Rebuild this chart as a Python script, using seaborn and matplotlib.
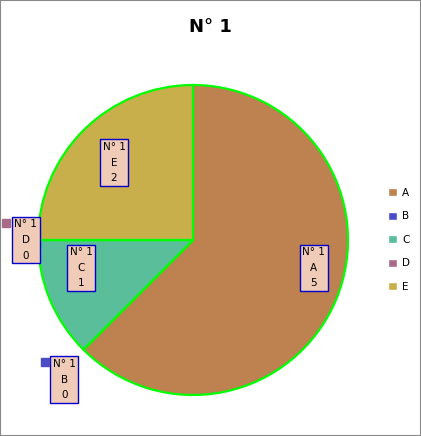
import matplotlib
matplotlib.use("Agg")
import matplotlib.pyplot as plt
from matplotlib.patches import Rectangle
import seaborn as sns

categories = ["A", "B", "C", "D", "E"]
values = [5, 0, 1, 0, 2]
series_name = "N° 1"
colors = ["#BE8150", "#4B4BC8", "#5ABE9B", "#A86A88", "#C8AF4B"]

# label anchor positions (data units, radius 1 pie) - layout only
label_pos = {"A": (0.78, -0.18), "B": (-0.83, -0.90), "C": (-0.72, -0.18),
             "D": (-1.08, 0.0), "E": (-0.51, 0.50)}

sns.set_style("white")
plt.rcParams["font.family"] = ["DejaVu Sans"]
plt.rcParams["text.color"] = "black"

fig = plt.figure(figsize=(4.21, 4.36), dpi=100)
ax = fig.add_axes([38 / 421, 41 / 436, 310 / 421, 310 / 436])

wedges, _ = ax.pie(values, colors=colors, startangle=90, counterclock=False,
                   radius=1, wedgeprops=dict(edgecolor="#00FF00", linewidth=1.6))
ax.set_xlim(-1, 1)
ax.set_ylim(-1, 1)
ax.set_aspect("equal")
ax.axis("off")

for cat, val, col in zip(categories, values, colors):
    x, y = label_pos[cat]
    ax.text(x, y, f"{series_name}\n{cat}\n{val}", ha="center", va="center",
            fontsize=7.5, linespacing=1.7, clip_on=False, zorder=5, color="black",
            bbox=dict(boxstyle="square,pad=0.25", facecolor="#F0CCB8",
                      edgecolor="#0000CC", linewidth=1))
    if val == 0:
        ax.plot(x - 0.125, y + 0.11, marker="s", markersize=6, color=col,
                clip_on=False, zorder=5)

handles = [Rectangle((0, 0), 1, 1, facecolor=c) for c in colors]
fig.legend(handles, categories, loc="center left", bbox_to_anchor=(379 / 421, 0.45),
           frameon=False, fontsize=7.5, handlelength=0.8, handleheight=0.8,
           labelspacing=1.3, handletextpad=0.5, labelcolor="black")

fig.suptitle(series_name, x=0.5, y=0.958, fontsize=13, fontweight="bold", color="black")

fig.patches.append(Rectangle((0, 0), 1, 1, transform=fig.transFigure, fill=False,
                             edgecolor="#888888", linewidth=1.5))

fig.savefig("out.png", dpi=100)
